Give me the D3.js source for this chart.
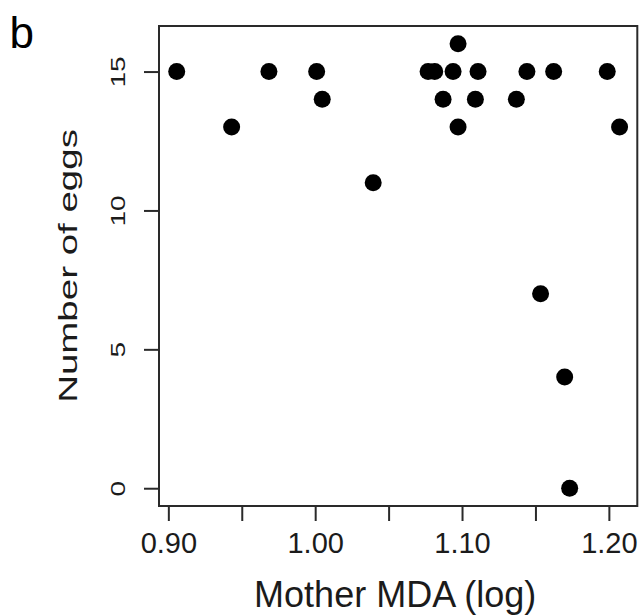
<!DOCTYPE html>
<html>
<head>
<meta charset="utf-8">
<script src="https://cdn.jsdelivr.net/npm/d3@7/dist/d3.min.js"></script>
<style>
  html, body { margin: 0; padding: 0; background: #fff; }
  svg { display: block; font-family: "Liberation Sans", Arial, sans-serif; }
</style>
</head>
<body>
<svg id="chart" width="641" height="616"></svg>
<script>
// Mother MDA (log) against number of eggs, one point per mother
const motherMDA = [0.9057, 0.9431, 0.9685, 1.0010, 1.0048, 1.0395, 1.0769, 1.0814,
                   1.0871, 1.0939, 1.0973, 1.0973, 1.1091, 1.1109, 1.1370, 1.1442,
                   1.1535, 1.1624, 1.1699, 1.1733, 1.1989, 1.2073];
const eggCount  = [15, 13, 15, 15, 14, 11, 15, 15,
                   14, 15, 16, 13, 14, 15, 14, 15,
                   7, 15, 4, 0, 15, 13];

const xTicks = [0.90, 0.95, 1.00, 1.05, 1.10, 1.15, 1.20];
const xTickLabels = ["0.90", "", "1.00", "", "1.10", "", "1.20"];
const yTicks = [0, 5, 10, 15];
const yTickLabels = ["0", "5", "10", "15"];

const panelLabel = "b";
const xTitle = "Mother MDA (log)";
const yTitle = "Number of eggs";

const svg = d3.select("#chart");
const plot = { left: 159, right: 637.3, top: 26, bottom: 506 };

// pad data range by 4% on each side
function padded(values, frac) {
  const [lo, hi] = d3.extent(values);
  const pad = (hi - lo) * frac;
  return [lo - pad, hi + pad];
}

const x = d3.scaleLinear().domain(padded(motherMDA, 0.04)).range([plot.left, plot.right]);
const y = d3.scaleLinear().domain(padded(eggCount, 0.04)).range([plot.bottom, plot.top]);

const ink = "#1b1b1b";

// points
svg.append("g")
  .selectAll("circle")
  .data(motherMDA.map((d, i) => ({ x: d, y: eggCount[i] })))
  .join("circle")
  .attr("cx", d => x(d.x))
  .attr("cy", d => y(d.y))
  .attr("r", 8.5)
  .attr("fill", "#000");

// frame
svg.append("rect")
  .attr("x", plot.left).attr("y", plot.top)
  .attr("width", plot.right - plot.left).attr("height", plot.bottom - plot.top)
  .attr("fill", "none").attr("stroke", "#2a2a2a").attr("stroke-width", 2);

// x axis
const xAxis = svg.append("g")
  .attr("transform", `translate(0,${plot.bottom})`)
  .call(d3.axisBottom(x).tickValues(xTicks).tickSize(15).tickSizeOuter(0)
        .tickFormat((d, i) => xTickLabels[i]));
xAxis.select(".domain").remove();
xAxis.selectAll(".tick line").attr("stroke", "#2a2a2a").attr("stroke-width", 2);
xAxis.selectAll(".tick text")
  .attr("y", 0).attr("dy", null)
  .attr("transform", "translate(0,46.5)")
  .attr("font-size", 29).attr("fill", ink)
  .attr("font-family", "Liberation Sans, Arial, sans-serif");

// y axis (labels are drawn condensed across their height)
const yAxis = svg.append("g")
  .attr("transform", `translate(${plot.left},0)`)
  .call(d3.axisLeft(y).tickValues(yTicks).tickSize(15).tickSizeOuter(0)
        .tickFormat((d, i) => yTickLabels[i]));
yAxis.select(".domain").remove();
yAxis.selectAll(".tick line").attr("stroke", "#2a2a2a").attr("stroke-width", 2);
yAxis.selectAll(".tick text")
  .attr("x", null).attr("dy", null)
  .attr("text-anchor", "middle")
  .attr("transform", "translate(-34,0) rotate(-90) scale(1,0.72)")
  .attr("font-size", 28).attr("fill", ink)
  .attr("font-family", "Liberation Sans, Arial, sans-serif");

// axis titles
svg.append("text")
  .attr("x", (plot.left + plot.right) / 2 - 3)
  .attr("y", 607)
  .attr("text-anchor", "middle")
  .attr("font-size", 36).attr("fill", ink)
  .text(xTitle);

svg.append("text")
  .attr("text-anchor", "middle")
  .attr("transform", `translate(77,${(plot.top + plot.bottom) / 2}) rotate(-90) scale(1,0.67)`)
  .attr("font-size", 38.5).attr("fill", ink)
  .text(yTitle);

// panel letter
svg.append("text")
  .attr("x", 9.5).attr("y", 47.5)
  .attr("font-size", 44).attr("fill", "#000")
  .text(panelLabel);
</script>
</body>
</html>
